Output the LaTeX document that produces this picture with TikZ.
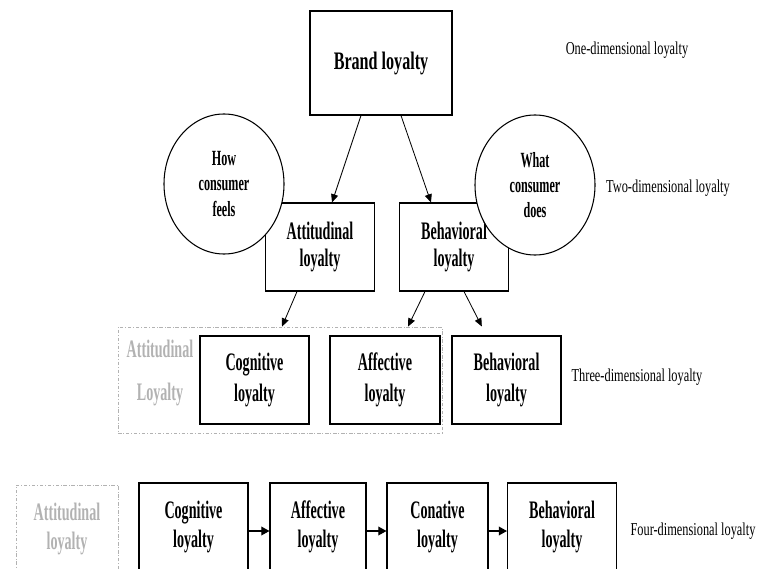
\documentclass[tikz,border=0pt]{standalone}
\usepackage{fontspec}
\setmainfont[FakeStretch=0.68]{Liberation Serif}
\newfontfamily\boxfont[FakeStretch=0.56]{Liberation Serif}
\newfontfamily\brandfont[FakeStretch=0.64]{Liberation Serif}
\usetikzlibrary{arrows.meta,shapes.geometric}
\definecolor{fadegray}{RGB}{178,178,178}

\tikzset{
	box/.style={draw, line width=0.9pt, minimum width=3.27cm, minimum height=2.64cm, align=center, inner sep=0pt},
	brandbox/.style={minimum width=4.26cm, minimum height=3.12cm, font=\brandfont\fontsize{21.5}{26}\selectfont\bfseries},
	lvltwo/.style={font=\boxfont\fontsize{21.5}{23.5}\selectfont\bfseries},
	lvlthree/.style={font=\boxfont\fontsize{21.5}{27}\selectfont\bfseries},
	lvlfour/.style={font=\boxfont\fontsize{21.5}{24.5}\selectfont\bfseries},
	feel/.style={ellipse, draw, fill=white, line width=0.9pt, minimum width=3.6cm, minimum height=4.2cm, align=center, inner sep=0pt, font=\boxfont\fontsize{18.5}{21.5}\selectfont\bfseries},
	lbl/.style={font=\fontsize{15.5}{19}\selectfont},
	grpbox/.style={draw=fadegray, line width=0.7pt, dash pattern=on 3pt off 1.5pt on 0.8pt off 1.5pt},
	fade/.style={text=fadegray, align=center},
	arr/.style={-{Triangle[length=7pt,width=6pt]}, line width=0.7pt},
	flow/.style={-{Triangle[length=7pt,width=7.5pt]}, line width=1pt}
}

\begin{document}
\begin{tikzpicture}[x=0.03cm, y=-0.03cm]
	\useasboundingbox (0,0) rectangle (761,569);
	\clip (0,0) rectangle (761,569);

	% one-dimensional
	\node[box, brandbox] (brand) at (381,63) {Brand loyalty};
	\node[lbl] (one) at (627,50) {One-dimensional loyalty};

	% two-dimensional
	\node[box, lvltwo] (att) at (320,247) {Attitudinal\\loyalty};
	\node[box, lvltwo] (beh) at (454,247) {Behavioral\\loyalty};
	\node[feel] (how) at (224,184) {How\\consumer\\feels};
	\node[feel] (what) at (535,185) {What\\consumer\\does};
	\node[lbl] (two) at (668,188) {Two-dimensional loyalty};

	% three-dimensional
	\node[grpbox, minimum width=9.72cm, minimum height=3.18cm] (attgrp) at (280,380) {};
	\node[fade, font=\boxfont\fontsize{21.5}{37.5}\selectfont\bfseries] (attname) at (160,373) {Attitudinal\\Loyalty};
	\node[box, lvlthree] (cog) at (254.5,380) {Cognitive\\loyalty};
	\node[box, lvlthree, minimum width=3.3cm] (aff) at (385,380) {Affective\\loyalty};
	\node[box, lvlthree] (beh3) at (506.5,380) {Behavioral\\loyalty};
	\node[lbl] (three) at (637,377) {Three-dimensional loyalty};

	% four-dimensional
	\node[grpbox, minimum width=3.06cm, minimum height=2.58cm] (attgrp4) at (67,528) {};
	\node[fade, font=\boxfont\fontsize{21.5}{25}\selectfont\bfseries] (attname4) at (67,529) {Attitudinal\\loyalty};
	\node[box, lvlfour] (cog4) at (193.5,527) {Cognitive\\loyalty};
	\node[box, lvlfour, minimum width=2.88cm] (aff4) at (318,527) {Affective\\loyalty};
	\node[box, lvlfour, minimum width=3.03cm] (con4) at (437.5,527) {Conative\\loyalty};
	\node[box, lvlfour] (beh4) at (562,527) {Behavioral\\loyalty};
	\node[lbl] (four) at (693,531) {Four-dimensional loyalty};

	\draw[arr] ([xshift=-0.6cm]brand.south) -- ([xshift=0.36cm]att.north);
	\draw[arr] ([xshift=0.6cm]brand.south) -- ([xshift=-0.69cm]beh.north);
	\draw[arr] ([xshift=-0.69cm]att.south) -- ([xshift=0.06cm]attgrp.north);
	\draw[arr] ([xshift=-0.87cm]beh.south) -- ([xshift=3.84cm]attgrp.north);
	\draw[arr] ([xshift=0.3cm]beh.south) -- ([shift={(-0.74cm,0.27cm)}]beh3.north);
	\draw[flow] ([yshift=-0.12cm]cog4.east) -- ([yshift=-0.12cm]aff4.west);
	\draw[flow] ([yshift=-0.12cm]aff4.east) -- ([yshift=-0.12cm]con4.west);
	\draw[flow] ([yshift=-0.12cm]con4.east) -- ([yshift=-0.12cm]beh4.west);
\end{tikzpicture}
\end{document}
